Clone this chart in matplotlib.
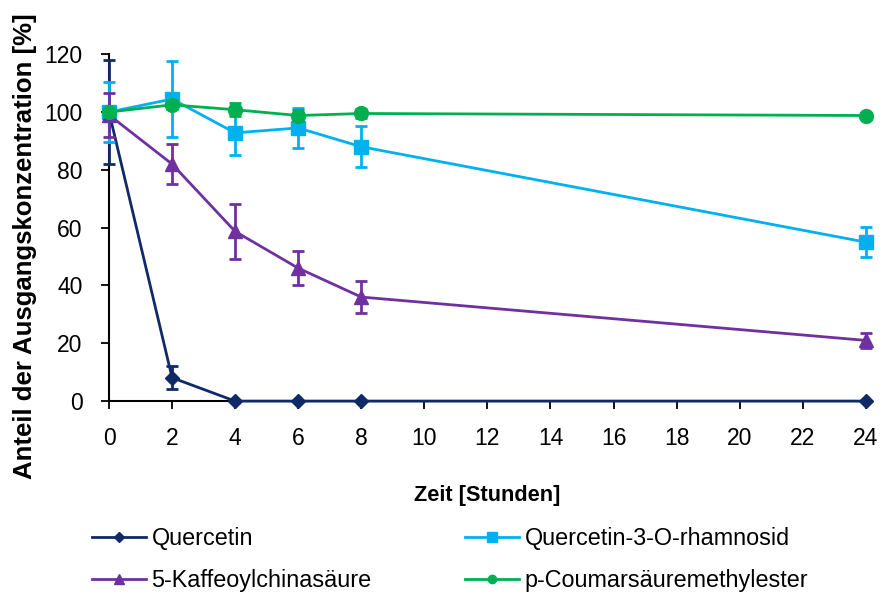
import matplotlib
matplotlib.use('Agg')
import matplotlib.pyplot as plt
from matplotlib.lines import Line2D

plt.rcParams['font.family'] = ['Liberation Sans', 'DejaVu Sans']

zeit = [0, 2, 4, 6, 8, 24]

quercetin = [100, 8.1, 0, 0, 0, 0]
quercetin_err = [18, 4, 0, 0, 0, 0]

rhamnosid = [100, 104.5, 92.8, 94.5, 88, 55]
rhamnosid_err = [10.3, 13.3, 7.8, 6.8, 7.1, 5.2]

kaffeoyl = [99, 82, 58.7, 46, 36, 21]
kaffeoyl_err = [7.5, 7, 9.4, 6, 5.6, 2.5]

coumar = [100, 102.5, 100.8, 98.8, 99.5, 98.8]
coumar_err = [1.5, 1.5, 2.3, 2, 1.5, 1]

labels = ['Quercetin', 'Quercetin-3-O-rhamnosid', '5-Kaffeoylchinasäure', 'p-Coumarsäuremethylester']
colors = ['#0f2a66', '#00b0f0', '#7030a0', '#00b050']
markers = ['D', 's', '^', 'o']
sizes = [7, 10, 10, 10]
leg_sizes = [5, 6.5, 7, 6]

fig = plt.figure(figsize=(8.82, 5.96), dpi=100)
ax = fig.add_axes([0.1236, 0.327, 0.858, 0.582])

series = [(quercetin, quercetin_err), (rhamnosid, rhamnosid_err),
          (kaffeoyl, kaffeoyl_err), (coumar, coumar_err)]

for i, (vals, err) in enumerate(series):
    ax.errorbar(zeit, vals, yerr=err, color=colors[i], marker=markers[i],
                markersize=sizes[i], linewidth=2, elinewidth=2,
                capsize=4, capthick=2, clip_on=False, zorder=3 + i)

ax.set_xlim(0, 24)
ax.set_ylim(0, 120)
ax.set_xticks(range(0, 25, 2))
ax.set_yticks(range(0, 121, 20))
ax.spines['top'].set_visible(False)
ax.spines['right'].set_visible(False)
ax.spines['left'].set_linewidth(1.5)
ax.spines['bottom'].set_linewidth(1.5)
ax.tick_params(direction='out', length=6, width=1.3, labelsize=16.5, pad=13)

ax.set_xlabel('Zeit [Stunden]', fontsize=15.7, fontweight='bold', labelpad=25)
ax.set_ylabel('Anteil der Ausgangskonzentration [%]', fontsize=18.5, fontweight='bold')
ax.yaxis.set_label_coords(-0.095, 0.447)

# legend: row 1 Quercetin | Quercetin-3-O-rhamnosid, row 2 Kaffeoyl | Coumar
order = [0, 2, 1, 3]
handles = [Line2D([], [], color=colors[i], marker=markers[i], markersize=leg_sizes[i],
                  linewidth=2) for i in order]
fig.legend(handles, [labels[i] for i in order],
           loc='lower left', bbox_to_anchor=(0.0805, -0.028), ncol=2,
           frameon=False, fontsize=16.8, columnspacing=4.0, handlelength=2.3,
           labelspacing=0.8, handletextpad=0.25)

fig.savefig('out.png', dpi=100)
